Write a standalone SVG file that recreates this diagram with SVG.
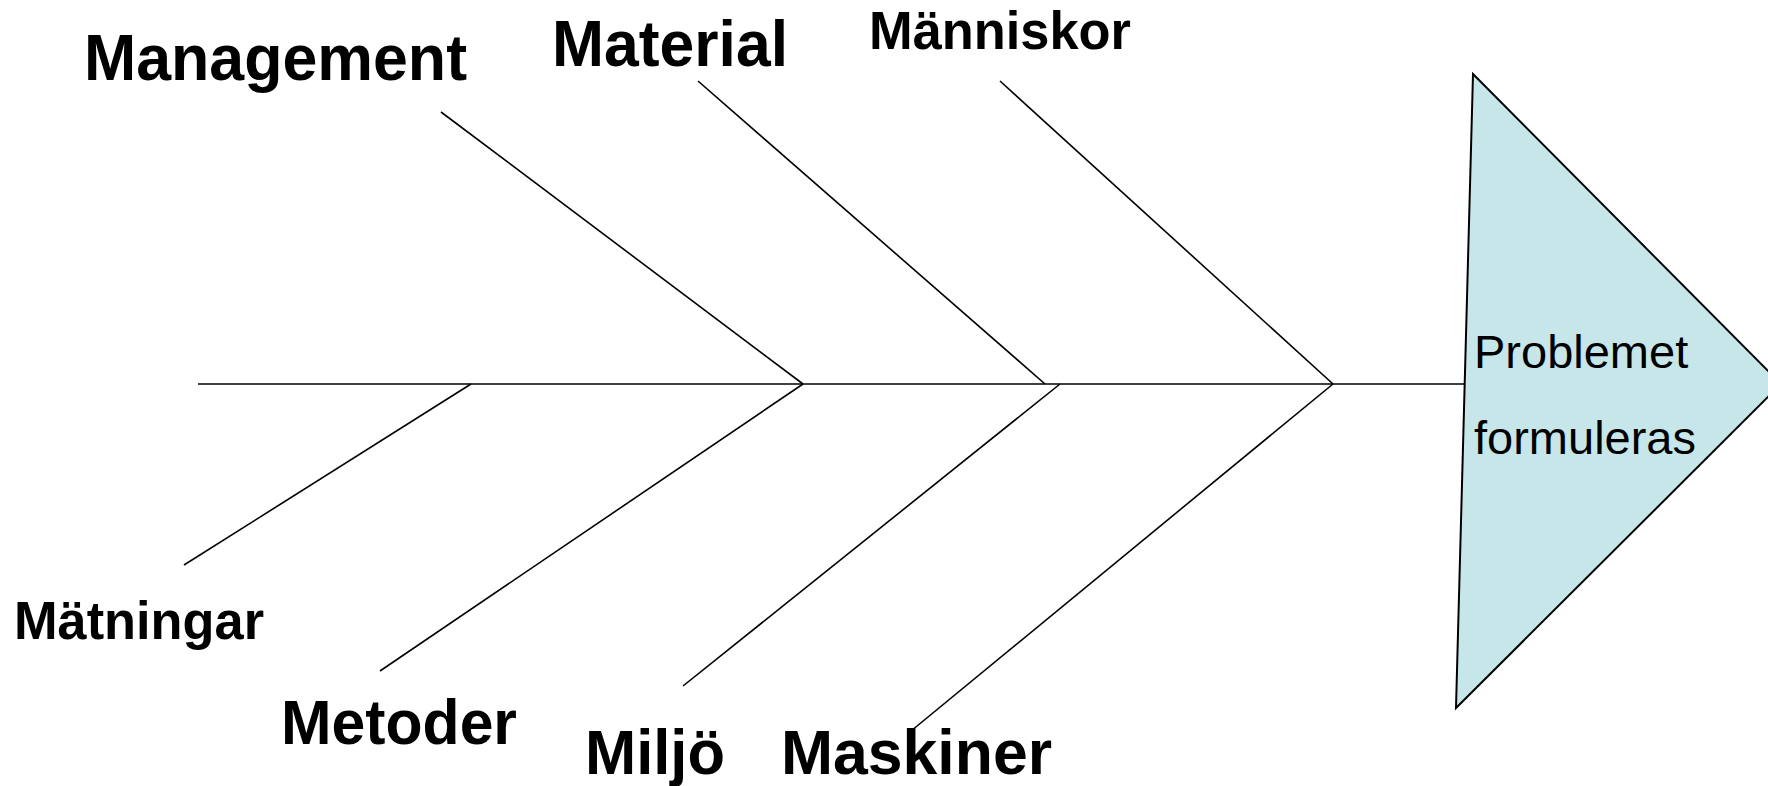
<svg xmlns="http://www.w3.org/2000/svg" width="1768" height="786" viewBox="0 0 1768 786">
<style>
.bone{stroke:#000;stroke-width:1.6;fill:none}
.lbl{font-family:"Liberation Sans",Arial,sans-serif;font-weight:bold;fill:#000}
.head{font-family:"Liberation Sans",Arial,sans-serif;font-size:47px;fill:#000}
</style>
<rect width="1768" height="786" fill="#fff"/>
<g id="connectors">
<line class="bone" x1="198" y1="384" x2="1464" y2="384"/>
<line class="bone" x1="441" y1="112" x2="803" y2="384"/>
<line class="bone" x1="698" y1="81" x2="1045" y2="384"/>
<line class="bone" x1="1000" y1="81" x2="1333" y2="384"/>
<line class="bone" x1="184" y1="565" x2="471" y2="384"/>
<line class="bone" x1="380" y1="671" x2="803" y2="384"/>
<line class="bone" x1="683" y1="686" x2="1060" y2="384"/>
<line class="bone" x1="911" y1="731" x2="1333" y2="384"/>
</g>
<g id="head">
<polygon points="1473,74 1781,384 1456,708" fill="#C7E6E9" stroke="#000" stroke-width="2"/>
<text class="head" x="1474" y="368">Problemet</text>
<text class="head" x="1474" y="454">formuleras</text>
</g>
<g id="management"><text class="lbl" x="84" y="80" font-size="64" textLength="383" lengthAdjust="spacingAndGlyphs">Management</text></g>
<g id="material"><text class="lbl" x="552" y="66" font-size="64" textLength="236" lengthAdjust="spacingAndGlyphs">Material</text></g>
<g id="manniskor"><text class="lbl" x="869" y="49" font-size="53" textLength="262" lengthAdjust="spacingAndGlyphs">Människor</text></g>
<g id="matningar"><text class="lbl" x="14" y="639" font-size="53" textLength="250" lengthAdjust="spacingAndGlyphs">Mätningar</text></g>
<g id="metoder"><text class="lbl" x="281" y="744" font-size="63" textLength="236" lengthAdjust="spacingAndGlyphs">Metoder</text></g>
<g id="miljo"><text class="lbl" x="585" y="774" font-size="63" textLength="140" lengthAdjust="spacingAndGlyphs">Miljö</text></g>
<g id="maskiner"><text class="lbl" x="781" y="774" font-size="63" textLength="271" lengthAdjust="spacingAndGlyphs">Maskiner</text></g>
</svg>
